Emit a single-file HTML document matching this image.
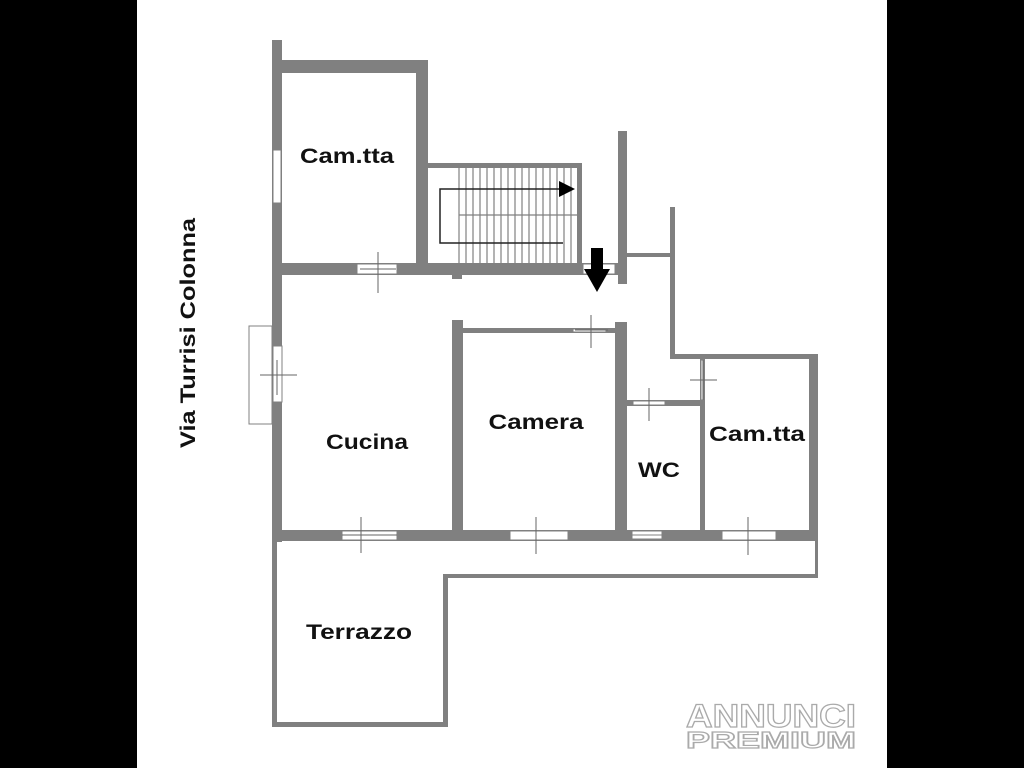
<!DOCTYPE html>
<html><head><style>body{margin:0;background:#000}svg{display:block}</style></head><body>
<svg width="1024" height="768" xmlns="http://www.w3.org/2000/svg" font-family="Liberation Sans, sans-serif">
<rect width="1024" height="768" fill="#000"/>
<rect x="137" y="0" width="750" height="768" fill="#fff"/>
<g fill="#808080">
<rect x="272" y="40" width="10" height="502"/>
<rect x="282" y="60" width="146" height="13"/>
<rect x="416" y="60" width="12" height="215"/>
<rect x="282" y="263" width="345" height="12"/>
<rect x="452" y="273" width="10" height="6"/>
<rect x="428" y="163" width="154" height="5"/>
<rect x="577" y="163" width="5" height="102"/>
<rect x="618" y="131" width="9" height="153"/>
<rect x="627" y="253" width="45" height="4"/>
<rect x="670" y="207" width="5" height="152"/>
<rect x="670" y="354" width="148" height="5"/>
<rect x="809" y="354" width="9" height="187"/>
<rect x="452" y="320" width="11" height="215"/>
<rect x="463" y="328" width="155" height="5"/>
<rect x="615" y="322" width="12" height="213"/>
<rect x="627" y="400" width="73" height="6"/>
<rect x="700" y="358" width="5" height="177"/>
<rect x="272" y="530" width="546" height="11"/>
<rect x="272" y="541" width="5" height="186"/>
<rect x="272" y="722" width="175" height="5"/>
<rect x="443" y="574" width="5" height="153"/>
<rect x="443" y="574" width="375" height="4"/>
<rect x="815" y="541" width="3" height="37"/>
</g>
<g stroke="#808080" stroke-width="1.2">
<line x1="459" y1="168" x2="459" y2="263"/><line x1="466" y1="168" x2="466" y2="263"/><line x1="473" y1="168" x2="473" y2="263"/><line x1="480" y1="168" x2="480" y2="263"/><line x1="487" y1="168" x2="487" y2="263"/><line x1="494" y1="168" x2="494" y2="263"/><line x1="501" y1="168" x2="501" y2="263"/><line x1="508" y1="168" x2="508" y2="263"/><line x1="515" y1="168" x2="515" y2="263"/><line x1="522" y1="168" x2="522" y2="263"/><line x1="529" y1="168" x2="529" y2="263"/><line x1="536" y1="168" x2="536" y2="263"/><line x1="543" y1="168" x2="543" y2="263"/><line x1="550" y1="168" x2="550" y2="263"/><line x1="557" y1="168" x2="557" y2="263"/><line x1="564" y1="168" x2="564" y2="263"/><line x1="571" y1="168" x2="571" y2="263"/>
<line x1="459" y1="215" x2="577" y2="215"/>
</g>
<path d="M563 243 H440 V189 H562" fill="none" stroke="#222" stroke-width="1.5"/>
<polygon points="559,181 575,189 559,197" fill="#000"/>
<g fill="#fff" stroke="#808080" stroke-width="1">
<rect x="273" y="150" width="8" height="53"/>
<rect x="357" y="264" width="40" height="10"/>
<rect x="583" y="264" width="32" height="10"/>
<rect x="573" y="329" width="33" height="3"/>
<rect x="273" y="346" width="9" height="56"/>
<rect x="342" y="531" width="55" height="9"/>
<rect x="510" y="531" width="58" height="9"/>
<rect x="632" y="531" width="30" height="4"/><rect x="632" y="535" width="30" height="4"/>
<rect x="722" y="531" width="54" height="9"/>
<rect x="633" y="401" width="32" height="4"/>
<rect x="701" y="360" width="3" height="40"/>
</g>
<rect x="249" y="326" width="23" height="98" fill="none" stroke="#808080" stroke-width="1"/>
<g stroke="#666" stroke-width="1">
<line x1="378" y1="252" x2="378" y2="293"/><line x1="360" y1="269" x2="396" y2="269"/>
<line x1="591" y1="315" x2="591" y2="348"/><line x1="575" y1="330" x2="608" y2="330"/>
<line x1="260" y1="375" x2="297" y2="375"/><line x1="277" y1="360" x2="277" y2="395"/>
<line x1="361" y1="517" x2="361" y2="553"/><line x1="342" y1="535" x2="397" y2="535"/>
<line x1="536" y1="517" x2="536" y2="554"/>
<line x1="649" y1="388" x2="649" y2="421"/>
<line x1="690" y1="380" x2="717" y2="380"/><line x1="703" y1="360" x2="703" y2="400"/>
<line x1="748" y1="517" x2="748" y2="555"/>
</g>
<rect x="591" y="248" width="12" height="22" fill="#000"/>
<polygon points="584,269 610,269 597,292" fill="#000"/>
<g font-weight="bold" font-size="21" fill="#111" text-anchor="middle">
<text x="347" y="163" textLength="94" lengthAdjust="spacingAndGlyphs">Cam.tta</text>
<text x="367" y="449" textLength="82" lengthAdjust="spacingAndGlyphs">Cucina</text>
<text x="536" y="429" textLength="95" lengthAdjust="spacingAndGlyphs">Camera</text>
<text x="659" y="477" textLength="42" lengthAdjust="spacingAndGlyphs">WC</text>
<text x="757" y="441" textLength="96" lengthAdjust="spacingAndGlyphs">Cam.tta</text>
<text x="359" y="639" textLength="106" lengthAdjust="spacingAndGlyphs">Terrazzo</text>
<text transform="translate(195,333) rotate(-90)" textLength="230" lengthAdjust="spacingAndGlyphs">Via Turrisi Colonna</text>
</g>
<g text-anchor="middle" fill="#fff" stroke="#aaa" stroke-width="1.2" font-weight="bold">
<text x="771" y="727" font-size="32" textLength="170" lengthAdjust="spacingAndGlyphs">ANNUNCI</text>
<text x="771" y="748" font-size="23" textLength="170" lengthAdjust="spacingAndGlyphs">PREMIUM</text>
</g>
</svg>
</body></html>
